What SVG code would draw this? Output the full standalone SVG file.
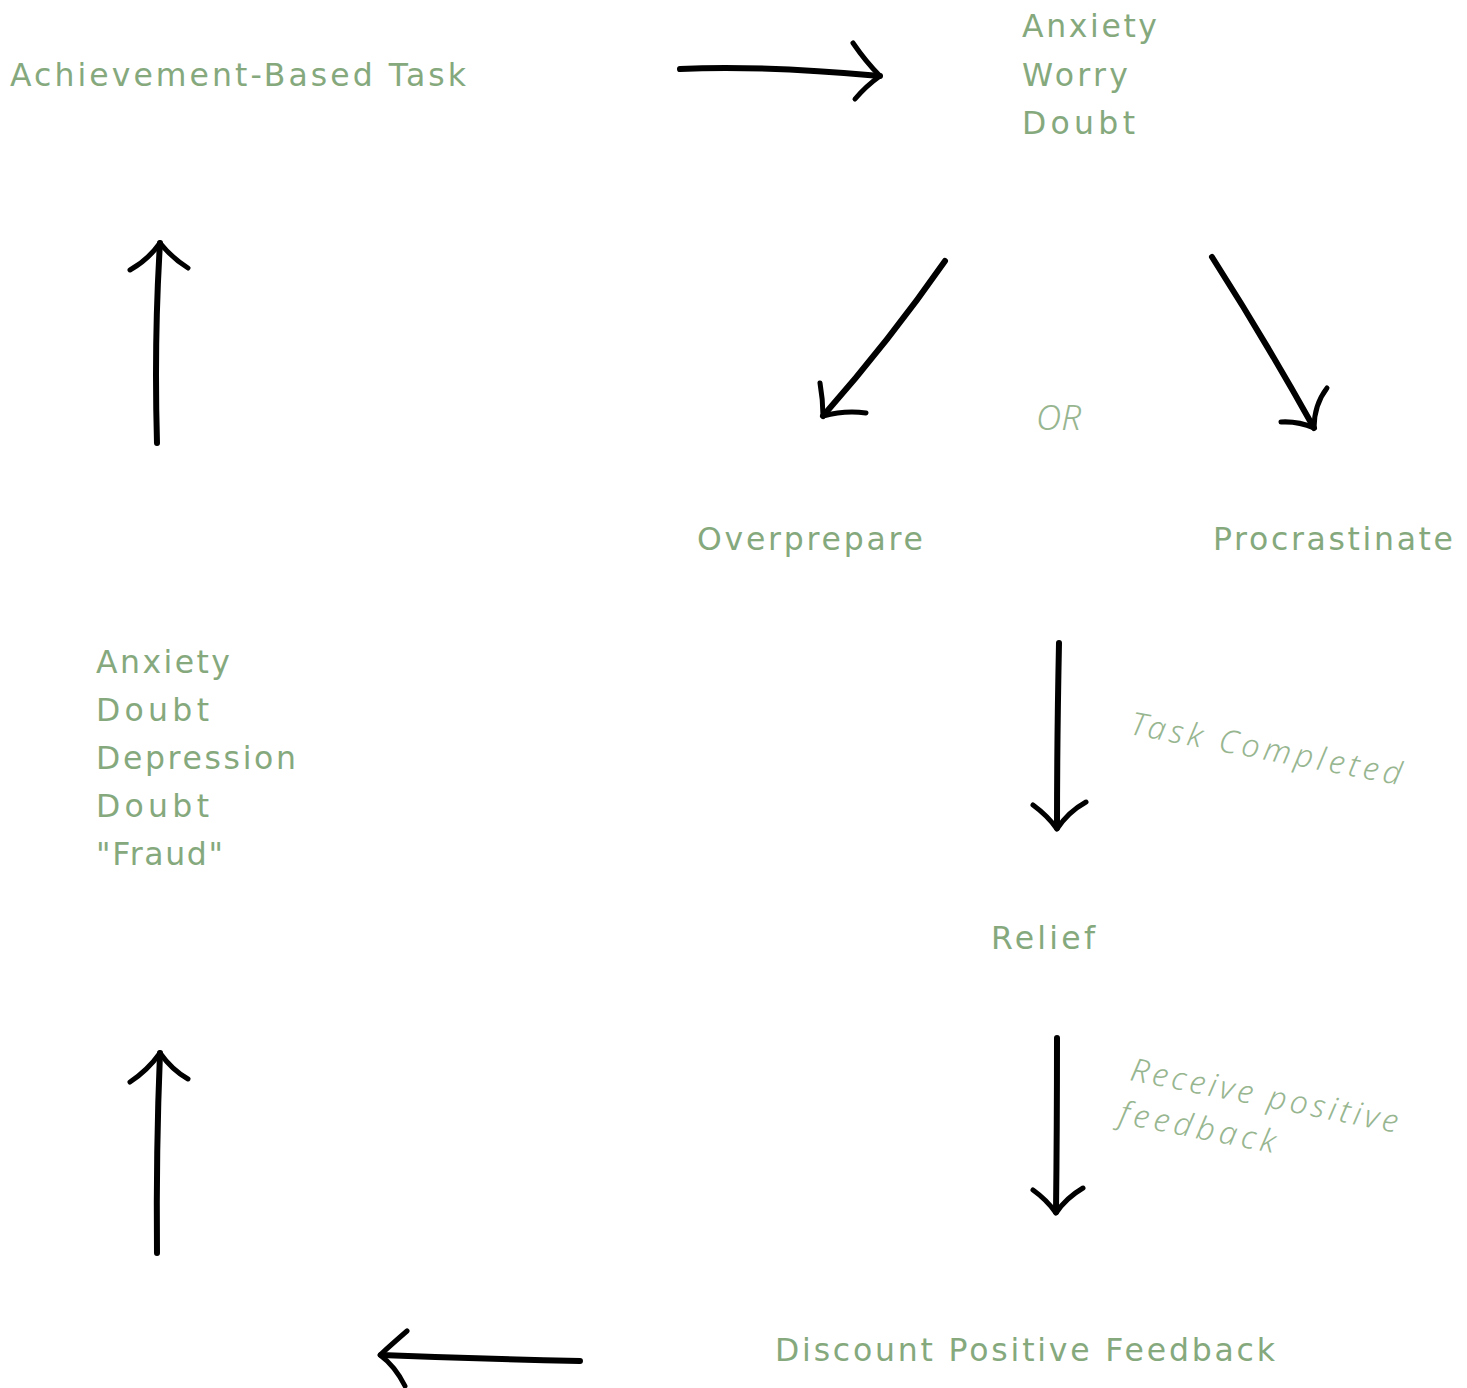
<svg xmlns="http://www.w3.org/2000/svg" width="1467" height="1388" viewBox="0 0 1467 1388">
  <style>
    .lbl { font-family: "DejaVu Sans", "Noto Sans", sans-serif; font-size: 31.5px; fill: #85a97d; }
    .note { font-family: "Noto Sans", "Open Sans", "DejaVu Sans", sans-serif; font-size: 32px; font-style: italic; font-weight: 300; fill: #97b690; }
    .shaft { fill: none; stroke: #000; stroke-width: 6; stroke-linecap: round; stroke-linejoin: round; }
    .barb { fill: none; stroke: #000; stroke-width: 5; stroke-linecap: round; stroke-linejoin: round; }
  </style>
  <rect width="1467" height="1388" fill="#fff"/>

  <g id="connectors">
    <!-- top: task -> anxiety -->
    <path class="shaft" d="M680,69 Q760,65 880,76"/>
    <path class="barb" d="M853,43 Q866,62 880,76 Q866,86 855,99"/>
    <!-- to overprepare -->
    <path class="shaft" d="M945,261 Q890,340 823,416"/>
    <path class="barb" d="M820,383 Q823,400 823,416 Q845,410 866,413"/>
    <!-- to procrastinate -->
    <path class="shaft" d="M1212,257 Q1265,340 1314,428"/>
    <path class="barb" d="M1327,388 Q1314,405 1314,428 Q1298,421 1281,422"/>
    <!-- to relief -->
    <path class="shaft" d="M1059,643 Q1057,740 1057,828"/>
    <path class="barb" d="M1033,805 Q1048,816 1057,829 Q1068,812 1086,802"/>
    <!-- to discount -->
    <path class="shaft" d="M1057,1038 Q1057,1130 1056,1212"/>
    <path class="barb" d="M1033,1190 Q1047,1200 1056,1213 Q1066,1198 1083,1188"/>
    <!-- bottom: discount -> left -->
    <path class="shaft" d="M580,1361 Q480,1359 381,1355"/>
    <path class="barb" d="M407,1331 Q392,1344 380,1355 Q395,1366 405,1386"/>
    <!-- left lower up -->
    <path class="shaft" d="M157,1253 Q156,1150 160,1053"/>
    <path class="barb" d="M130,1082 Q148,1070 160,1053 Q172,1070 188,1079"/>
    <!-- left upper up -->
    <path class="shaft" d="M157,443 Q154,340 160,243"/>
    <path class="barb" d="M130,270 Q148,260 160,243 Q172,258 188,268"/>
  </g>

  <g id="node-task">
    <text class="lbl" x="10" y="86" textLength="456" lengthAdjust="spacing">Achievement-Based Task</text>
  </g>
  <g id="node-anxiety-top">
    <text class="lbl" x="1022" y="37" textLength="135" lengthAdjust="spacing">Anxiety</text>
    <text class="lbl" x="1022" y="86" textLength="106" lengthAdjust="spacing">Worry</text>
    <text class="lbl" x="1022" y="134" textLength="113" lengthAdjust="spacing">Doubt</text>
  </g>
  <g id="label-or">
    <text class="note" x="1036" y="430" style="font-size:35px">OR</text>
  </g>
  <g id="node-overprepare">
    <text class="lbl" x="697" y="550" textLength="226" lengthAdjust="spacing">Overprepare</text>
  </g>
  <g id="node-procrastinate">
    <text class="lbl" x="1213" y="550" textLength="240" lengthAdjust="spacing">Procrastinate</text>
  </g>
  <g id="label-task-completed">
    <text class="note" transform="translate(1129,734) rotate(10.7)" textLength="275" lengthAdjust="spacing">Task Completed</text>
  </g>
  <g id="node-relief">
    <text class="lbl" x="991" y="949" textLength="104" lengthAdjust="spacing">Relief</text>
  </g>
  <g id="label-receive">
    <text class="note" transform="translate(1129,1080) rotate(11.2)" textLength="272" lengthAdjust="spacing">Receive positive</text>
    <text class="note" transform="translate(1118,1123) rotate(11)" textLength="158" lengthAdjust="spacing">feedback</text>
  </g>
  <g id="node-discount">
    <text class="lbl" x="775" y="1361" textLength="500" lengthAdjust="spacing">Discount Positive Feedback</text>
  </g>
  <g id="node-anxiety-left">
    <text class="lbl" x="96" y="673" textLength="134" lengthAdjust="spacing">Anxiety</text>
    <text class="lbl" x="96" y="721" textLength="113" lengthAdjust="spacing">Doubt</text>
    <text class="lbl" x="96" y="769" textLength="200" lengthAdjust="spacing">Depression</text>
    <text class="lbl" x="96" y="817" textLength="113" lengthAdjust="spacing">Doubt</text>
    <text class="lbl" x="96" y="865" textLength="127" lengthAdjust="spacing">"Fraud"</text>
  </g>
</svg>
